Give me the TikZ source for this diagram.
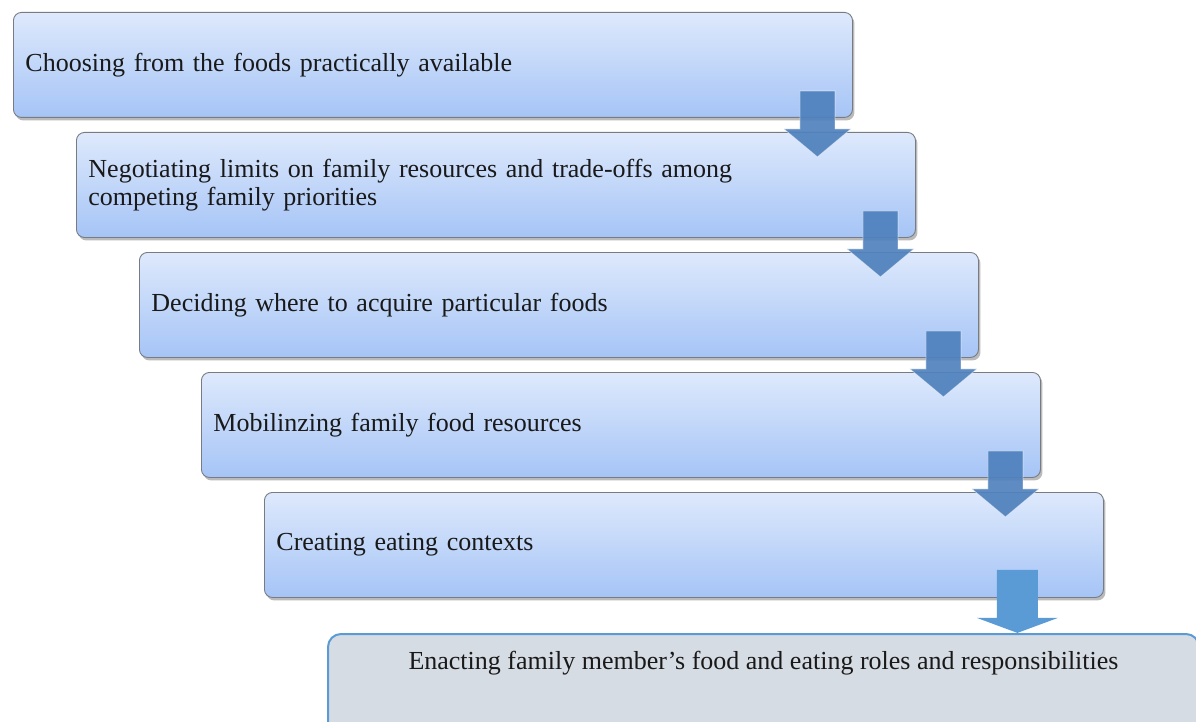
\documentclass[tikz,border=0pt]{standalone}
\usepackage{fontspec}
\setmainfont{Liberation Serif}
\usetikzlibrary{calc,shadows}
\definecolor{boxtop}{RGB}{222,233,252}
\definecolor{boxbot}{RGB}{165,196,246}
\definecolor{boxline}{RGB}{120,124,130}
\definecolor{arrowblue}{RGB}{79,129,189}
\definecolor{lastblue}{RGB}{91,155,213}
\definecolor{lastfill}{RGB}{214,220,228}
\begin{document}
\begin{tikzpicture}[x=1pt,y=-1pt,
  stepbox/.style={draw=boxline, line width=0.9pt, rounded corners=8pt,
    top color=boxtop, bottom color=boxbot,
    drop shadow={shadow xshift=2pt, shadow yshift=-3pt, opacity=0.45, fill=black!60},
    anchor=north west, minimum width=839pt, minimum height=105pt,
    text width=815pt, align=left, inner xsep=12pt,
    font=\fontsize{26}{27.5}\selectfont, text=black!90},
  finalbox/.style={draw=lastblue, line width=2pt, rounded corners=13pt,
    fill=lastfill, anchor=north west, minimum width=871pt, minimum height=130pt},
  barrow/.style={fill=arrowblue, fill opacity=0.92, draw=white, draw opacity=0.5, line width=0.8pt},
  lastarrow/.style={fill=lastblue},
  txt/.style={font=\fontsize{26}{27.5}\selectfont, text=black!90}]
\useasboundingbox (0,0) rectangle (1196,722);
\clip (0,0) rectangle (1196,722);
\node[stepbox] (b1) at (13,12) {Choosing from the foods practically available};
\node[stepbox] (b2) at (76,132) {Negotiating limits on family resources and trade-offs among\\competing family priorities};
\node[stepbox] (b3) at (139,252) {Deciding where to acquire particular foods};
\node[stepbox] (b4) at (201,372) {Mobilinzing family food resources};
\node[stepbox] (b5) at (264,492) {Creating eating contexts};
\node[finalbox] (b6) at (327,633) {};
\node[txt] (b6t) at ($(b6.north)+(0,30)$) {Enacting family member’s food and eating roles and responsibilities};
\foreach \k in {1,2,3,4}{
  \draw[barrow] ($(b\k.south east)+(-53,-27)$) -- ++(35,0) -- ++(0,38) -- ++(16,0)
     -- ++(-33.5,28) -- ++(-33.5,-28) -- ++(16,0) -- cycle;
}
\fill[lastarrow] ($(b5.south east)+(-107,-28)$) -- ++(41,0) -- ++(0,48) -- ++(20,0)
   -- ++(-40.5,15) -- ++(-40.5,-15) -- ++(20,0) -- cycle;
\end{tikzpicture}
\end{document}
